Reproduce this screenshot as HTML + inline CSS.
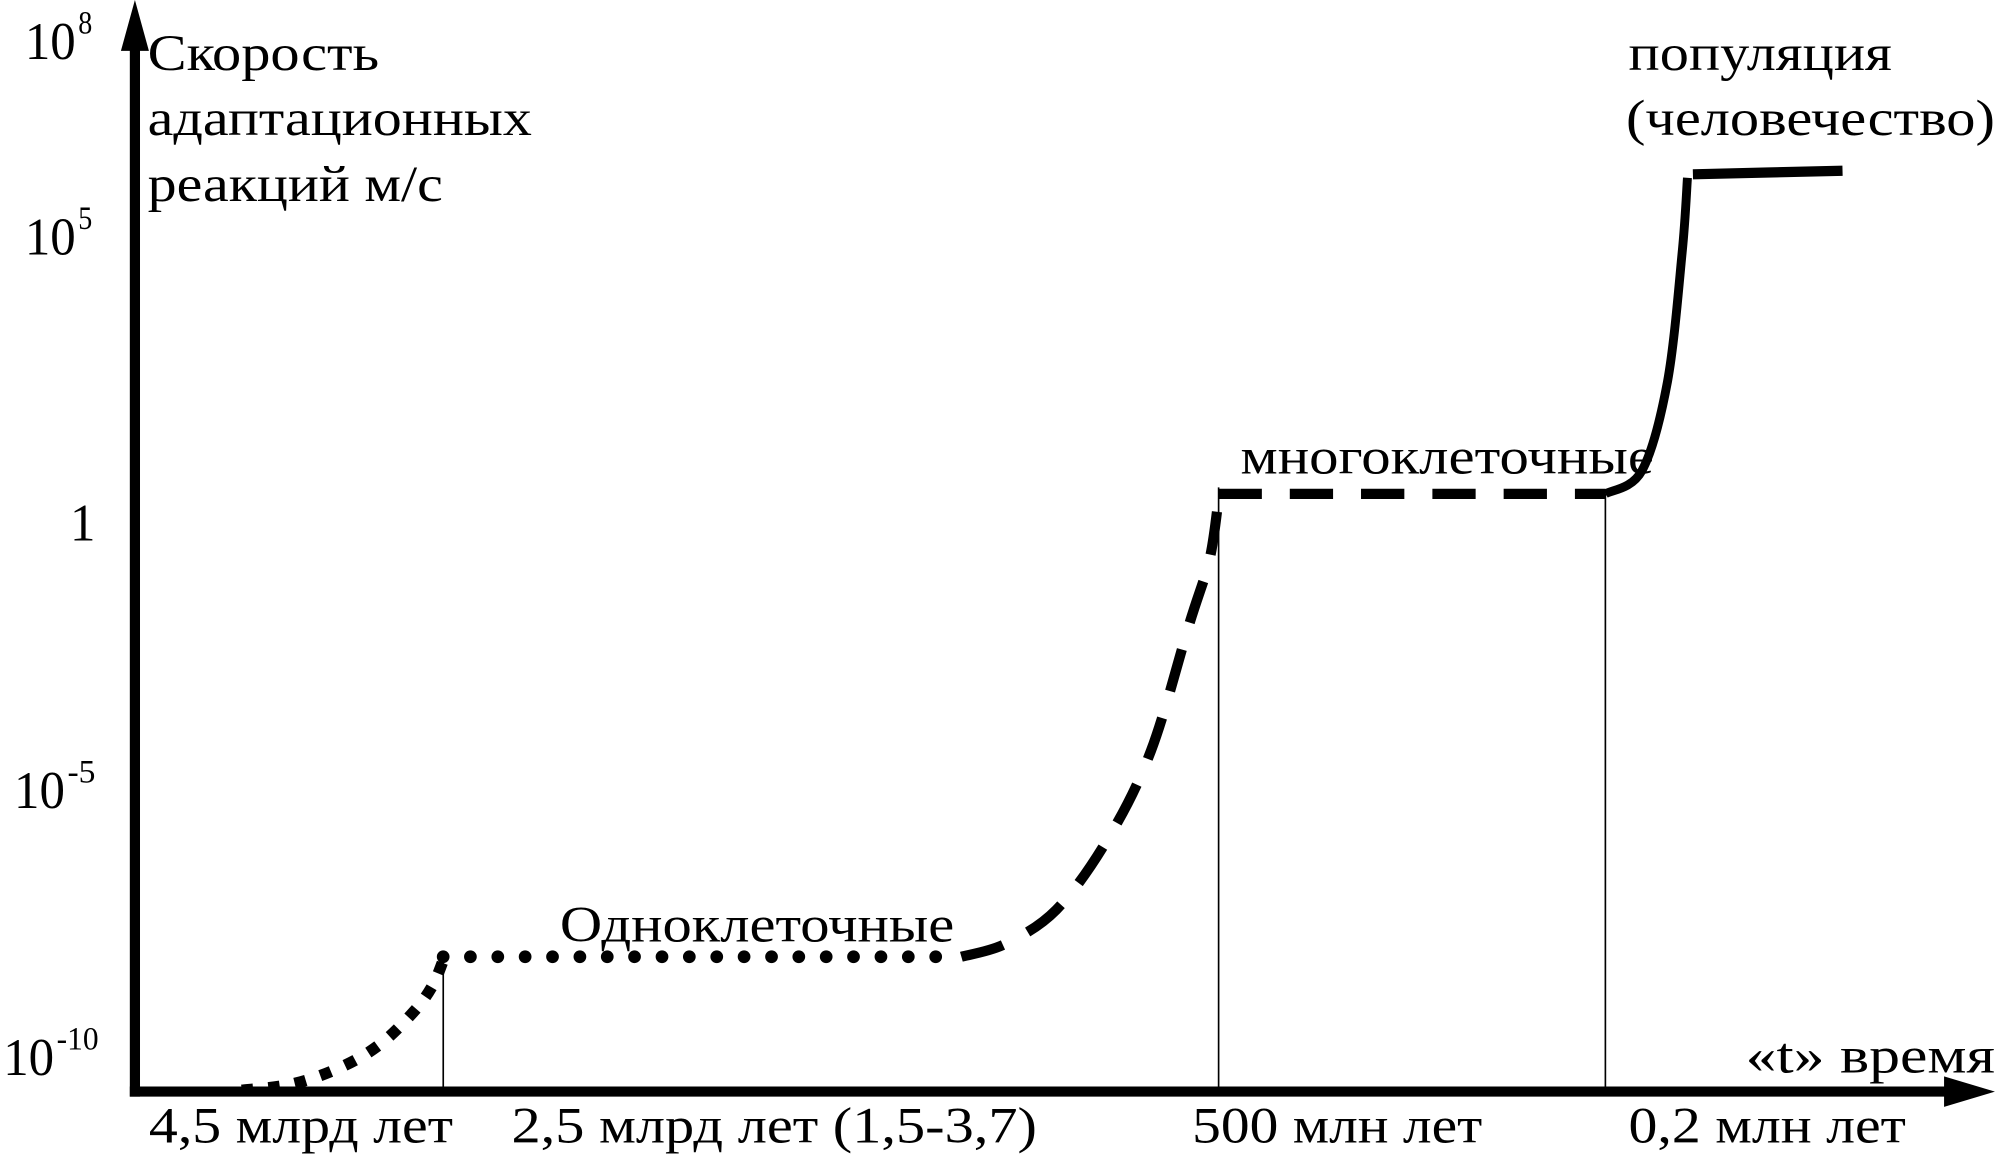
<!DOCTYPE html>
<html><head><meta charset="utf-8">
<style>
html,body{margin:0;padding:0;background:#fff;}
svg{display:block;}
text{font-family:"Liberation Serif","DejaVu Serif",serif;fill:#000;}
</style></head>
<body>
<svg id="chart" width="1995" height="1158" viewBox="0 0 1568 910.2" xmlns="http://www.w3.org/2000/svg">
<g id="axes">
  <line x1="106" y1="862" x2="106" y2="30" stroke="#000" stroke-width="8"/>
  <polygon points="106,0 95,40 117,40" fill="#000"/>
  <line x1="102" y1="858" x2="1535" y2="858" stroke="#000" stroke-width="8"/>
  <polygon points="1568,858 1528,846 1528,870" fill="#000"/>
</g>
<g id="ylabels"></g>
<g id="marks"></g>
<g font-size="40">
  <text x="116" y="55" textLength="182" lengthAdjust="spacingAndGlyphs">Скорость</text>
  <text x="116" y="106" textLength="302" lengthAdjust="spacingAndGlyphs">адаптационных</text>
  <text x="116" y="158" textLength="232" lengthAdjust="spacingAndGlyphs">реакций м/с</text>
</g>
<g font-size="40">
  <text x="1280" y="55" textLength="207" lengthAdjust="spacingAndGlyphs">популяция</text>
  <text x="1278" y="106" textLength="290" lengthAdjust="spacingAndGlyphs">(человечество)</text>
  <text x="975" y="372" textLength="325" lengthAdjust="spacingAndGlyphs">многоклеточные</text>
  <text x="440" y="740" textLength="310" lengthAdjust="spacingAndGlyphs">Одноклеточные</text>
  <text x="1372" y="843" textLength="196" lengthAdjust="spacingAndGlyphs">«t» время</text>
</g>
<g id="xlabels" font-size="40">
  <text x="117" y="898" textLength="239" lengthAdjust="spacingAndGlyphs">4,5 млрд лет</text>
  <text x="402" y="898" textLength="413" lengthAdjust="spacingAndGlyphs">2,5 млрд лет (1,5-3,7)</text>
  <text x="937" y="898" textLength="228" lengthAdjust="spacingAndGlyphs">500 млн лет</text>
  <text x="1280" y="898" textLength="218" lengthAdjust="spacingAndGlyphs">0,2 млн лет</text>
</g>
</svg>
<script>
// time in arbitrary units (0..100), value as log10 exponent
const riseT = [5.86, 8.65, 11.4, 13.5, 15.3, 16.3, 16.9];
const riseE = [-10.62, -10.5, -10.17, -9.74, -9.14, -8.67, -8.19];
const uniT = [16.9, 45.3];
const uniE = [-8.12, -8.12];
const multiRiseT = [45.3, 47.7, 50.5, 53.3, 55.7, 57.8, 58.9, 59.4];
const multiRiseE = [-8.12, -7.88, -7.24, -5.93, -4.26, -1.88, -0.69, 0.41];
const multiT = [59.4, 80.6];
const multiE = [0.49, 0.49];
const humanRiseT = [80.6, 82.6, 84.0, 84.8, 85.1];
const humanRiseE = [0.49, 0.88, 2.38, 4.53, 5.82];
const humanT = [85.4, 93.6];
const humanE = [5.88, 5.94];
const boundaryT = [16.9, 59.4, 80.6];
const boundaryTopE = [-8.19, 0.6, 0.49];
const tickExp = [8, 5, 0, -5, -10];
const tickBase = ["10", "10", "1", "10", "10"];
const tickSup = ["8", "5", "", "-5", "-10"];

const NS = "http://www.w3.org/2000/svg";
const xS = t => 106 + t * 14.34;
const yS = e => e >= 0 ? 411 - e * 46.6 : 411 - e * 42;
const marks = document.getElementById('marks');

function path(ts, es, name, attrs) {
  const p = document.createElementNS(NS, 'path');
  const pts = ts.map((t, i) => [xS(t), yS(es[i])]);
  let d = 'M' + pts[0][0].toFixed(1) + ',' + pts[0][1].toFixed(1);
  for (let i = 0; i < pts.length - 1; i++) {
    const p0 = pts[Math.max(0, i - 1)], p1 = pts[i], p2 = pts[i + 1], p3 = pts[Math.min(pts.length - 1, i + 2)];
    const c1 = [p1[0] + (p2[0] - p0[0]) / 6, p1[1] + (p2[1] - p0[1]) / 6];
    const c2 = [p2[0] - (p3[0] - p1[0]) / 6, p2[1] - (p3[1] - p1[1]) / 6];
    d += ' C' + c1.map(v => v.toFixed(1)).join(',') + ' ' + c2.map(v => v.toFixed(1)).join(',') + ' ' + p2.map(v => v.toFixed(1)).join(',');
  }
  p.setAttribute('d', d);
  p.setAttribute('fill', 'none');
  p.setAttribute('stroke', '#000');
  for (const k in attrs) p.setAttribute(k, attrs[k]);
  
  
  marks.appendChild(p);
}
boundaryT.forEach((t, i) => {
  const l = document.createElementNS(NS, 'line');
  l.setAttribute('x1', xS(t)); l.setAttribute('x2', xS(t));
  l.setAttribute('y1', yS(boundaryTopE[i])); l.setAttribute('y2', 858);
  l.setAttribute('stroke', '#000'); l.setAttribute('stroke-width', '1.3');
  
  
  marks.appendChild(l);
});
path(riseT, riseE, 'prebiotic-rise-dotted', {'stroke-width': 9, 'stroke-dasharray': '9 12'});
path(uniT, uniE, 'unicellular-dotted', {'stroke-width': 10, 'stroke-linecap': 'round', 'stroke-dasharray': '0 21.5'});
path(multiRiseT, multiRiseE, 'multicellular-rise-dashed', {'stroke-width': 8, 'stroke-dasharray': '34 22'});
path(multiT, multiE, 'multicellular-dashed', {'stroke-width': 8, 'stroke-dasharray': '34 22'});
path(humanRiseT, humanRiseE, 'human-rise-solid', {'stroke-width': 7});
path(humanT, humanE, 'human-solid', {'stroke-width': 8});

const yl = document.getElementById('ylabels');
tickExp.forEach((e, i) => {
  const t = document.createElementNS(NS, 'text');
  const y = yS(e) + (e > 0 ? 8 : 14) + (e === 5 ? 14 : 0);
  const len = tickSup[i].length;
  const xEnd = len ? 68 - 8.5 * len : 75;
  const w = tickBase[i].length * 20;
  t.setAttribute('y', y);
  t.setAttribute('font-size', '42');
  t.setAttribute('x', xEnd - w);
  t.setAttribute('textLength', w);
  t.setAttribute('lengthAdjust', 'spacingAndGlyphs');
  t.textContent = tickBase[i];
  
  
  yl.appendChild(t);
  if (len) {
    const s = document.createElementNS(NS, 'text');
    s.setAttribute('x', xEnd + 2);
    s.setAttribute('y', y - 20);
    s.setAttribute('font-size', '26');
    s.setAttribute('textLength', len * 11);
    s.setAttribute('lengthAdjust', 'spacingAndGlyphs');
    s.textContent = tickSup[i];
    
    
    yl.appendChild(s);
  }
});
</script>
</body></html>
